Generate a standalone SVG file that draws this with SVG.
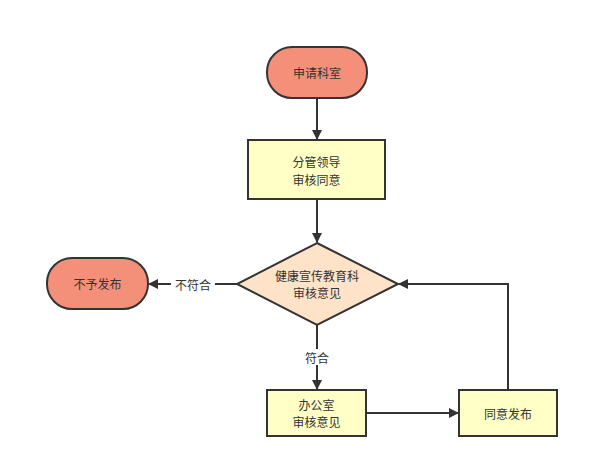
<svg xmlns="http://www.w3.org/2000/svg" width="590" height="468" viewBox="0 0 590 468">
<defs>
<style>
.t{font-family:"Noto Sans CJK SC","Liberation Sans",sans-serif;font-size:12px;fill:#333;text-anchor:middle;dominant-baseline:central}
.sal{fill:#F4907A;stroke:#333;stroke-width:2}
.yel{fill:#FFFFC6;stroke:#333;stroke-width:2}
.dia{fill:#FFE3C8;stroke:#333;stroke-width:2}
.ln{fill:none;stroke:#333;stroke-width:2}
</style>
<marker id="ah" markerWidth="10" markerHeight="10" refX="9" refY="5" orient="auto" markerUnits="userSpaceOnUse">
<path d="M0,0 L10,5 L0,10 Z" fill="#333"/>
</marker>
</defs>
<rect width="590" height="468" fill="#fff"/>
<g id="connectors">
<line class="ln" x1="317" y1="98" x2="317" y2="139" marker-end="url(#ah)"/>
<line class="ln" x1="317" y1="200" x2="317" y2="242" marker-end="url(#ah)"/>
<line class="ln" x1="237" y1="284" x2="149" y2="284" marker-end="url(#ah)"/>
<rect x="171" y="276" width="44" height="16" fill="#fff"/>
<text class="t" x="193" y="284">不符合</text>
<line class="ln" x1="317" y1="325" x2="317" y2="389" marker-end="url(#ah)"/>
<rect x="302" y="349" width="30" height="16" fill="#fff"/>
<text class="t" x="317" y="357">符合</text>
<line class="ln" x1="366" y1="413" x2="458" y2="413" marker-end="url(#ah)"/>
<polyline class="ln" points="508,390 508,284 399,284" marker-end="url(#ah)"/>
</g>
<g id="n1">
<rect class="sal" x="267" y="47" width="100" height="51" rx="25" ry="25"/>
<text class="t" x="317" y="72.5">申请科室</text>
</g>
<g id="n2">
<rect class="yel" x="248" y="140" width="137" height="59"/>
<text class="t" x="316.5" y="161">分管领导</text>
<text class="t" x="316.5" y="179">审核同意</text>
</g>
<g id="n3">
<polygon class="dia" points="317,243 398,284 317,325 237,284"/>
<text class="t" x="317" y="275">健康宣传教育科</text>
<text class="t" x="317" y="292">审核意见</text>
</g>
<g id="n4">
<rect class="sal" x="47" y="258" width="101" height="51" rx="25" ry="25"/>
<text class="t" x="97.5" y="283.5">不予发布</text>
</g>
<g id="n5">
<rect class="yel" x="267" y="390" width="99" height="46"/>
<text class="t" x="316.5" y="404">办公室</text>
<text class="t" x="316.5" y="421">审核意见</text>
</g>
<g id="n6">
<rect class="yel" x="459" y="390" width="98" height="46"/>
<text class="t" x="508" y="413">同意发布</text>
</g>
</svg>
